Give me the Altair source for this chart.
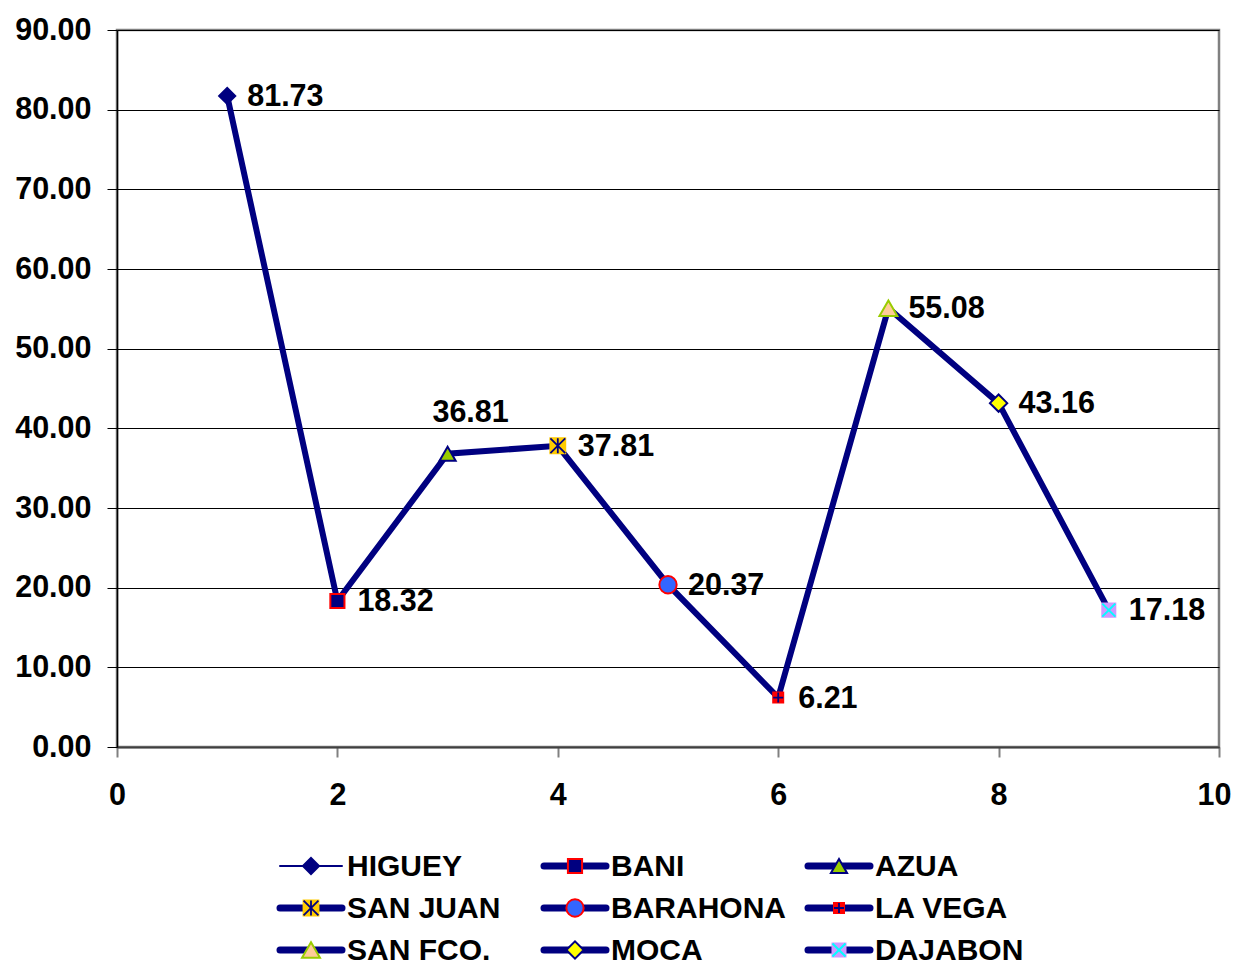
import altair as alt
import pandas as pd

# ---- data ----
names = ["HIGUEY", "BANI", "AZUA", "SAN JUAN", "BARAHONA", "LA VEGA", "SAN FCO.", "MOCA", "DAJABON"]
positions = [1, 2, 3, 4, 5, 6, 7, 8, 9]
values = [81.73, 18.32, 36.81, 37.81, 20.37, 6.21, 55.08, 43.16, 17.18]
x_ticks = [0, 2, 4, 6, 8, 10]
y_ticks = [0, 10, 20, 30, 40, 50, 60, 70, 80, 90]

# ---- styles ----
NAVY = "#000080"
FONT = "Liberation Sans"
FS = 30.5
markers = {
    "HIGUEY": dict(shape="diamond", fill=NAVY, stroke=NAVY, size=260),
    "BANI": dict(shape="square", fill=NAVY, stroke="#FF0000", size=200),
    "AZUA": dict(shape="triangle-up", fill="#99CC00", stroke=NAVY, size=260),
    "SAN JUAN": dict(shape="square", fill="#FFCC00", stroke="#FFCC00", size=220,
                     overlay=("M-1,-1L1,1M-1,1L1,-1M0,-1L0,1", NAVY, 1.8)),
    "BARAHONA": dict(shape="circle", fill="#3366FF", stroke="#FF0000", size=300),
    "LA VEGA": dict(shape="square", fill="#FF0000", stroke="#FF0000", size=100,
                    overlay=("M-1,0L1,0M0,-1L0,1", NAVY, 1.8)),
    "SAN FCO.": dict(shape="triangle-up", fill="#FFCC99", stroke="#99CC00", size=320),
    "MOCA": dict(shape="diamond", fill="#FFFF00", stroke=NAVY, size=300),
    "DAJABON": dict(shape="square", fill="#CC99FF", stroke="#CC99FF", size=170,
                    overlay=("M-1,-1L1,1M-1,1L1,-1", "#00FFFF", 2)),
}

df = pd.DataFrame({"name": names, "pos": positions, "value": values})
leg = pd.DataFrame({"name": names,
                    "col": [i % 3 for i in range(len(names))],
                    "row": [i // 3 for i in range(len(names))]})

# ---- main encodings ----
X = alt.X("pos:Q", scale=alt.Scale(domain=[0, 10], nice=False),
          axis=alt.Axis(values=x_ticks, format="d", title=None, grid=False,
                        domainColor="#404040", domainWidth=2,
                        tickColor="#808080", tickWidth=2, tickSize=10,
                        labelFlush=False, labelOverlap=False,
                        labelAlign=alt.expr("datum.value == 10 ? 'right' : 'center'"),
                        labelOffset=alt.expr("datum.value == 10 ? 12 : 0"),
                        labelPadding=23, labelFont=FONT, labelFontSize=FS,
                        labelFontWeight="bold", labelColor="black"))
Y = alt.Y("value:Q", scale=alt.Scale(domain=[0, 90], nice=False),
          axis=alt.Axis(values=y_ticks, format=".2f", title=None, grid=True,
                        gridColor="black", gridWidth=1, gridOpacity=1,
                        domainColor="black", domainWidth=1.5,
                        tickColor="black", tickSize=10, tickWidth=1,
                        labelFlush=False, labelOverlap=False,
                        labelPadding=16, labelFont=FONT, labelFontSize=FS,
                        labelFontWeight="bold", labelColor="black"))

base = alt.Chart(df)
line = base.mark_line(color=NAVY, strokeWidth=6, strokeJoin="miter").encode(x=X, y=Y)


def marker_layers(chart, xenc, yenc, xoff=0):
    out = []
    for n in names:
        m = markers[n]
        out.append(chart.transform_filter(alt.datum.name == n).mark_point(
            shape=m["shape"], filled=True, fill=m["fill"], stroke=m["stroke"],
            strokeWidth=2, size=m["size"], opacity=1, xOffset=xoff
        ).encode(x=xenc, y=yenc))
        if "overlay" in m:
            path, col, sw = m["overlay"]
            out.append(chart.transform_filter(alt.datum.name == n).mark_point(
                shape=path, filled=False, stroke=col, strokeWidth=sw,
                size=m["size"], opacity=1, xOffset=xoff
            ).encode(x=xenc, y=yenc))
    return out


labels = base.transform_filter(alt.datum.name != "AZUA").mark_text(
    align="left", baseline="middle", dx=20, dy=1, font=FONT, fontSize=FS,
    fontWeight="bold", color="black"
).encode(x=X, y=Y, text=alt.Text("value:Q", format=".2f"))
label_azua = base.transform_filter(alt.datum.name == "AZUA").mark_text(
    align="center", baseline="middle", dx=23, dy=-41, font=FONT, fontSize=FS,
    fontWeight="bold", color="black"
).encode(x=X, y=Y, text=alt.Text("value:Q", format=".2f"))

main = alt.layer(line, *marker_layers(base, X, Y), labels, label_azua)

# ---- legend ----
LX = alt.X("col:Q", scale=alt.Scale(domain=[0, 2], range=[163, 691]), axis=None)
LY = alt.Y("row:Q", scale=alt.Scale(domain=[0, 2], range=[836, 920]), axis=None)
lbase = alt.Chart(leg)
leg_line = lbase.mark_rule(color=NAVY, x2Offset=62, strokeCap="round").encode(
    x=LX, x2=alt.X2("col"), y=LY,
    strokeWidth=alt.condition(alt.datum.name == "HIGUEY", alt.value(2), alt.value(7)))
leg_text = lbase.mark_text(align="left", baseline="middle", dx=67, dy=1, font=FONT,
                           fontSize=30, fontWeight="bold", color="black").encode(
    x=LX, y=LY, text="name:N")
legend = alt.layer(leg_line, *marker_layers(lbase, LX, LY, xoff=31), leg_text)

chart = alt.layer(main, legend).resolve_scale(x="independent", y="independent").properties(
    width=1102, height=717, autosize="none",
    padding={"left": 109, "top": 22, "right": 12, "bottom": 221},
    background="white",
).configure_view(stroke="#808080", strokeWidth=2.5)

chart.save("out.html", embed_options={"renderer": "svg", "actions": False})
